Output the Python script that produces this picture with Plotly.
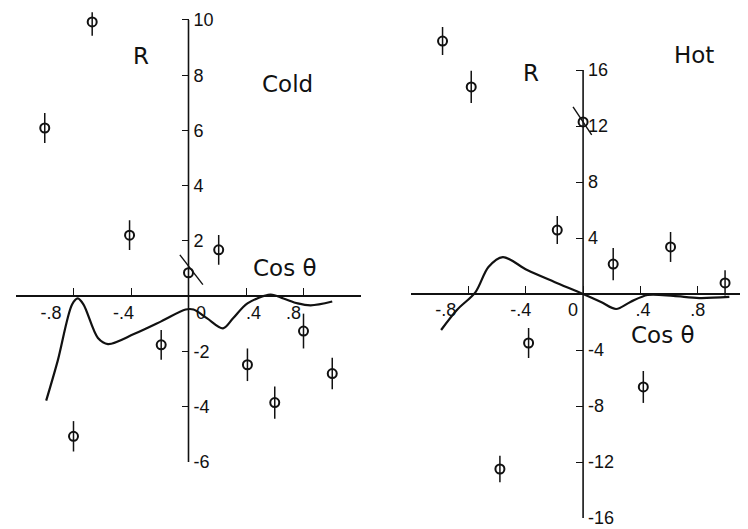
import plotly.graph_objects as go

# ---------------- data: Cold panel ----------------
cold_x = [-0.67, -1.0, -0.41, 0.21, -0.19, -0.80, 0.41, 0.60, 0.80, 1.0]
cold_y = [9.93, 6.09, 2.21, 1.68, -1.76, -5.07, -2.48, -3.85, -1.26, -2.80]
cold_err = [0.50, 0.54, 0.54, 0.54, 0.54, 0.55, 0.59, 0.58, 0.63, 0.57]
# point at cos=0 with slanted error bar
cold_slant_pt = [0.0, 0.85]
cold_slant_x = [-0.06, 0.10]
cold_slant_y = [1.50, 0.42]

cold_curve_x = [-0.99, -0.91, -0.81, -0.77, -0.73, -0.63, -0.56, -0.38, -0.19, -0.02,
                0.035, 0.13, 0.24, 0.31, 0.41, 0.57, 0.66, 0.76, 0.85, 1.0]
cold_curve_y = [-3.78, -2.34, -0.30, -0.08, -0.30, -1.51, -1.73, -1.37, -0.91, -0.48,
                -0.48, -0.80, -1.16, -0.80, -0.26, 0.06, -0.08, -0.26, -0.33, -0.19]

# ---------------- data: Hot panel ----------------
hot_x = [-0.98, -0.78, -0.18, 0.21, 0.61, 0.99, -0.38, 0.42, -0.58]
hot_y = [18.07, 14.79, 4.57, 2.14, 3.36, 0.79, -3.50, -6.64, -12.50]
hot_err = [1.0, 1.15, 1.0, 1.15, 1.07, 0.9, 1.07, 1.14, 0.95]
hot_slant_pt = [0.0, 12.29]
hot_slant_x = [-0.07, 0.06]
hot_slant_y = [13.36, 11.36]

hot_curve_x = [-0.99, -0.88, -0.75, -0.66, -0.56, -0.39, -0.20, 0.0, 0.125, 0.23,
               0.33, 0.45, 0.63, 0.81, 1.02]
hot_curve_y = [-2.57, -1.14, 0.14, 1.93, 2.64, 1.71, 0.86, 0.0, -0.57, -1.07,
               -0.57, -0.07, -0.14, -0.29, -0.21]

# ---------------- ticks ----------------
NB = '\u00a0'
x_tickvals = [-1.2, -0.8, -0.4, 0, 0.4, 0.8, 1.2]
# hand-lettered labels sit slightly off their ticks in the original
cold_xticktext = ['', '-.8' + NB * 9, '-.4' + NB * 3, NB * 5 + '0', NB * 3 + '.4',
                  '.8' + NB * 4, '']
hot_xticktext = ['', '-.8' + NB * 9, '-.4' + NB * 2, '0' + NB * 4, NB + '.4', '.8', '']
cold_ytickvals = [10, 8, 6, 4, 2, -2, -4, -6]
cold_yticktext = ['10', '8', '6', '4', '2', '-2', '-4', '-6']
hot_ytickvals = [16, 12, 8, 4, -4, -8, -12, -16]
hot_yticktext = ['16', '12', '8', '4', '-4', '-8', '-12', '-16']
cold_axis_span = [-6, 10]
hot_axis_span = [-16, 16]

OFF = 8  # page body margin
W, H = 748 - OFF, 529 - OFF
INK = '#111111'
TICKFONT = dict(family='Liberation Sans, Arial, sans-serif', size=18, color=INK)
LABFONT = dict(family='DejaVu Sans, sans-serif', size=23, color=INK)

# panel geometry (screen pixels); y ranges padded above the drawn axis span
c_x0, c_x1, c_xr = 16, 361, (-1.2, 1.2)
c_ytop, c_ybot, c_yr = 12.25, 462, (-6, 10.28)
h_x0, h_x1, h_xr = 411, 748, (-1.2, 1.15)
h_ytop, h_ybot, h_yr = 21, 518, (-16, 19.5)


def xdom(a, b):
    return [(a - OFF) / W, (b - OFF) / W]


def ydom(top, bot):
    return [1 - (bot - OFF) / H, 1 - (top - OFF) / H]


def zero_frac(dom, rng):
    return dom[0] + (0 - rng[0]) / (rng[1] - rng[0]) * (dom[1] - dom[0])


cxd, cyd = xdom(c_x0, c_x1), ydom(c_ytop, c_ybot)
hxd, hyd = xdom(h_x0, h_x1), ydom(h_ytop, h_ybot)

fig = go.Figure()

for (xs, ys, errs, sp, slx, sly, cx, cy, xa, ya) in [
    (cold_x, cold_y, cold_err, cold_slant_pt, cold_slant_x, cold_slant_y,
     cold_curve_x, cold_curve_y, 'x', 'y'),
    (hot_x, hot_y, hot_err, hot_slant_pt, hot_slant_x, hot_slant_y,
     hot_curve_x, hot_curve_y, 'x2', 'y2'),
]:
    fig.add_trace(go.Scatter(x=cx, y=cy, mode='lines', xaxis=xa, yaxis=ya,
                             line=dict(color=INK, width=2.2, shape='spline', smoothing=0.9),
                             cliponaxis=False, hoverinfo='skip'))
    fig.add_trace(go.Scatter(x=slx, y=sly, mode='lines', xaxis=xa, yaxis=ya,
                             line=dict(color=INK, width=1.4), cliponaxis=False,
                             hoverinfo='skip'))
    fig.add_trace(go.Scatter(x=xs + [sp[0]], y=ys + [sp[1]], mode='markers',
                             xaxis=xa, yaxis=ya, cliponaxis=False,
                             marker=dict(symbol='circle-open', size=9, color=INK,
                                         line=dict(width=2, color=INK)),
                             error_y=dict(type='data', array=errs + [0], visible=True,
                                          color=INK, thickness=1.5, width=0)))

common_x = dict(showgrid=False, zeroline=False, showline=True, linecolor=INK,
                linewidth=1.6, ticks='inside', ticklen=7, tickwidth=1.4,
                tickcolor=INK, tickvals=x_tickvals, ticklabeloverflow='allow',
                tickfont=TICKFONT, anchor='free', side='bottom', fixedrange=True,
                automargin=False)
common_y = dict(showgrid=False, zeroline=False, showline=False,
                ticks='inside', ticklen=7, tickwidth=1.4, ticklabeloverflow='allow',
                ticklabelstandoff=4,
                tickcolor=INK, tickfont=TICKFONT, anchor='free', side='right',
                fixedrange=True, automargin=False)

fig.update_layout(
    width=W, height=H, margin=dict(l=0, r=0, t=0, b=0, autoexpand=False),
    paper_bgcolor='white', plot_bgcolor='white', showlegend=False,
    xaxis=dict(common_x, domain=cxd, range=list(c_xr), ticktext=cold_xticktext,
               position=zero_frac(cyd, c_yr)),
    yaxis=dict(common_y, domain=cyd, range=list(c_yr),
               tickvals=cold_ytickvals, ticktext=cold_yticktext,
               position=zero_frac(cxd, c_xr)),
    xaxis2=dict(common_x, domain=hxd, range=list(h_xr), ticktext=hot_xticktext,
                position=zero_frac(hyd, h_yr)),
    yaxis2=dict(common_y, domain=hyd, range=list(h_yr),
                tickvals=hot_ytickvals, ticktext=hot_yticktext,
                position=zero_frac(hxd, h_xr)),
)

# vertical axis lines, spanning only their tick ranges
for xr, yr, span in [('x', 'y', cold_axis_span), ('x2', 'y2', hot_axis_span)]:
    fig.add_shape(type='line', xref=xr, yref=yr, x0=0, x1=0,
                  y0=span[0], y1=span[1],
                  line=dict(color=INK, width=1.6), layer='above')

labels = [
    ('R', -0.33, 8.7, 'x', 'y'),
    ('Cold', 0.69, 7.7, 'x', 'y'),
    ('Cos θ', 0.67, 1.03, 'x', 'y'),
    ('R', -0.36, 15.8, 'x2', 'y2'),
    ('Hot', 0.77, 17.1, 'x2', 'y2'),
    ('Cos θ', 0.56, -2.93, 'x2', 'y2'),
]
for t, x, y, xr, yr in labels:
    fig.add_annotation(text=t, x=x, y=y, xref=xr, yref=yr, showarrow=False,
                       font=LABFONT, xanchor='center', yanchor='middle')

fig.write_html('out.html')
